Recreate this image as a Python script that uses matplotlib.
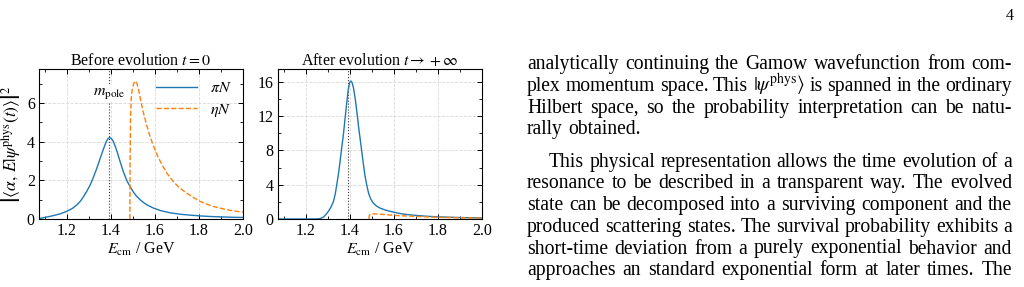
import numpy as np
import matplotlib
matplotlib.use('Agg')
import matplotlib.pyplot as plt
from matplotlib.ticker import MultipleLocator

plt.rcParams['font.family'] = 'serif'
plt.rcParams['font.serif'] = ['Liberation Serif', 'DejaVu Serif']
plt.rcParams['mathtext.fontset'] = 'stix'

## data (E in GeV)
e_pi_before = [1.077, 1.10, 1.14, 1.17, 1.20, 1.225, 1.246, 1.262, 1.276, 1.29, 1.306, 1.32,
               1.336, 1.35, 1.366, 1.378, 1.387, 1.394, 1.401, 1.41, 1.42, 1.43, 1.442,
               1.457, 1.473, 1.488, 1.50, 1.517, 1.532, 1.547, 1.562, 1.592, 1.624, 1.668,
               1.72, 1.76, 1.805, 1.85, 1.90, 1.95, 2.00]
pi_before = [0.03, 0.08, 0.18, 0.27, 0.40, 0.55, 0.74, 0.93, 1.17, 1.43, 1.77, 2.15,
             2.63, 3.10, 3.62, 3.98, 4.16, 4.21, 4.17, 4.02, 3.74, 3.40, 2.95,
             2.42, 1.96, 1.66, 1.42, 1.17, 1.0, 0.86, 0.74, 0.57, 0.44, 0.32,
             0.24, 0.20, 0.16, 0.13, 0.11, 0.09, 0.08]
e_eta_before = [1.486, 1.487, 1.489, 1.492, 1.496, 1.50, 1.505, 1.511, 1.518, 1.525, 1.532,
                1.545, 1.562, 1.578, 1.594, 1.612, 1.63, 1.655, 1.683, 1.71, 1.744, 1.775,
                1.805, 1.835, 1.865, 1.90, 1.941, 1.97, 2.00]
eta_before = [0.0, 3.0, 5.2, 6.2, 6.65, 6.85, 7.05, 7.13, 7.0, 6.7, 6.3,
              5.6, 4.85, 4.25, 3.75, 3.25, 2.85, 2.35, 1.94, 1.62, 1.34, 1.11,
              0.91, 0.77, 0.65, 0.55, 0.45, 0.40, 0.35]

e_pi_after = [1.077, 1.20, 1.25, 1.265, 1.28, 1.29, 1.302, 1.314, 1.325, 1.333, 1.340, 1.348,
              1.355, 1.362, 1.370, 1.378, 1.386, 1.392, 1.398, 1.404, 1.41, 1.416, 1.424,
              1.431, 1.438, 1.446, 1.454, 1.461, 1.468, 1.476, 1.482, 1.486, 1.495, 1.506,
              1.52, 1.536, 1.56, 1.582, 1.627, 1.66, 1.70, 1.75, 1.80, 1.90, 2.00]
pi_after = [0.0, 0.0, 0.01, 0.05, 0.23, 0.5, 0.9, 1.4, 2.06, 2.9, 4.0, 5.3,
            6.7, 8.2, 9.8, 11.8, 13.7, 15.0, 15.9, 16.1, 15.9, 15.3, 14.0,
            12.6, 11.0, 9.4, 7.8, 6.4, 5.1, 4.0, 3.3, 2.9, 2.3, 1.86,
            1.52, 1.28, 1.05, 0.9, 0.64, 0.52, 0.42, 0.32, 0.25, 0.17, 0.12]
e_eta_after = [1.486, 1.488, 1.495, 1.506, 1.53, 1.567, 1.60, 1.70, 1.80, 1.90, 2.00]
eta_after = [0.0, 0.45, 0.57, 0.6, 0.57, 0.5, 0.42, 0.3, 0.2, 0.14, 0.1]

m_pole = 1.393

W, H = 1024, 287
fig = plt.figure(figsize=(W / 100, H / 100), dpi=100)

def px_axes(x0, y0, x1, y1):
    return fig.add_axes([x0 / W, 1 - y1 / H, (x1 - x0) / W, (y1 - y0) / H])

ax1 = px_axes(39, 69, 243, 219)
ax2 = px_axes(278, 69, 482, 219)

blue = '#1f77b4'
orange = '#ff7f0e'
fs = 11.5

for ax in (ax1, ax2):
    ax.set_xlim(1.073, 2.0)
    ax.xaxis.set_major_locator(MultipleLocator(0.2))
    ax.xaxis.set_minor_locator(MultipleLocator(0.1))
    ax.tick_params(which='both', direction='in', top=True, right=True, labelsize=fs, pad=3)
    ax.tick_params(which='major', length=3.5, width=0.7)
    ax.tick_params(which='minor', length=2, width=0.6)
    ax.grid(True, which='major', linestyle='--', color='#d9d9d9', lw=0.6)
    ax.set_axisbelow(True)
    ax.set_xlabel(r'$E_{\rm cm}$ / GeV', fontsize=fs, labelpad=1)
    ax.axvline(m_pole, color='#333333', ls=':', lw=0.8, zorder=1)
    for s in ax.spines.values():
        s.set_linewidth(0.8)

ax1.plot(e_pi_before, pi_before, color=blue, lw=1.0, label=r'$\pi N$')
ax1.plot(e_eta_before, eta_before, color=orange, lw=1.0, ls='--', label=r'$\eta N$')
ax1.set_ylim(0, 7.75)
ax1.yaxis.set_major_locator(MultipleLocator(2))
ax1.yaxis.set_minor_locator(MultipleLocator(1))
ax1.set_title(r'Before evolution $t=0$', fontsize=fs, pad=3)
ax1.set_ylabel(r'$\left|\langle\alpha,\,E|\psi^{\mathrm{phys}}(t)\rangle\right|^2$', fontsize=12.5, labelpad=3)
ax1.text(m_pole, 6.5, r'$m_{\rm pole}$', fontsize=fs, ha='center', va='center',
         bbox=dict(facecolor='white', edgecolor='none', pad=0.5), zorder=2)
ax1.legend(loc='upper right', frameon=False, fontsize=fs, handlelength=2.6,
           handletextpad=0.8, labelspacing=0.35, borderaxespad=0.3)

ax2.plot(e_pi_after, pi_after, color=blue, lw=1.0)
ax2.plot(e_eta_after, eta_after, color=orange, lw=1.0, ls='--')
ax2.set_ylim(0, 17.5)
ax2.yaxis.set_major_locator(MultipleLocator(4))
ax2.yaxis.set_minor_locator(MultipleLocator(2))
ax2.set_title(r'After evolution $t\rightarrow +\infty$', fontsize=fs, pad=3)

## body text of the page on the right, justified word by word
para1 = [
    "analytically continuing the Gamow wavefunction from com-",
    r"plex momentum space. This $|\psi^{\mathrm{phys}}\rangle$ is spanned in the ordinary",
    "Hilbert space, so the probability interpretation can be natu-",
    "rally obtained.",
]
para2 = [
    "This physical representation allows the time evolution of a",
    "resonance to be described in a transparent way. The evolved",
    "state can be decomposed into a surviving component and the",
    "produced scattering states. The survival probability exhibits a",
    "short-time deviation from a purely exponential behavior and",
    "approaches an standard exponential form at later times. The",
]
base1 = [69.3, 91.0, 112.7, 134.4]
base2 = [166.7, 188.4, 210.1, 231.8, 253.5, 275.2]

renderer = fig.canvas.get_renderer()
fs_body = 14.1

def put_line(line, yb, x0, x1, justify):
    words = line.split(' ')
    objs = [fig.text(0, 0, w, fontsize=fs_body, va='baseline', ha='left') for w in words]
    widths = [t.get_window_extent(renderer).width for t in objs]
    if justify and len(words) > 1:
        gap = (x1 - x0 - sum(widths)) / (len(words) - 1)
    else:
        gap = fs_body * 100 / 72 * 0.25
    x = x0
    for t, w in zip(objs, widths):
        t.set_position((x / W, 1 - yb / H))
        x += w + gap

for i, (ln, yb) in enumerate(zip(para1, base1)):
    put_line(ln, yb, 527, 1012, justify=(i < len(para1) - 1))
for i, (ln, yb) in enumerate(zip(para2, base2)):
    put_line(ln, yb, 549 if i == 0 else 527, 1012, justify=True)

fig.text(1010 / W, 1 - 20 / H, '4', fontsize=11.5, ha='center', va='baseline')

fig.savefig('out.png', dpi=100)
